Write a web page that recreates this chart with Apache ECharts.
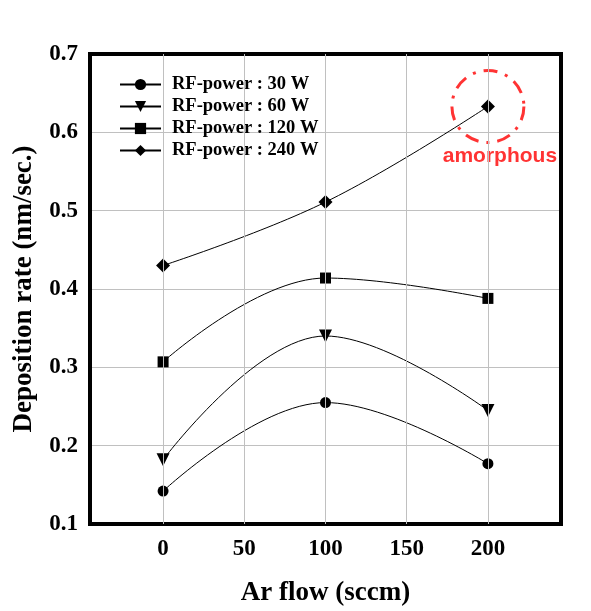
<!DOCTYPE html>
<html>
<head>
<meta charset="utf-8">
<script src="https://cdn.jsdelivr.net/npm/echarts@6/dist/echarts.min.js"></script>
<style>html,body{margin:0;padding:0;background:#fff}#c{width:591px;height:611px}</style>
</head>
<body>
<div id="c"></div>
<script>
const arFlow = [0, 100, 200];
const rf30 = [0.142, 0.255, 0.177];
const rf60 = [0.182, 0.340, 0.245];
const rf120 = [0.307, 0.414, 0.388];
const rf240 = [0.430, 0.511, 0.633];
const seriesNames = ['RF-power : 30 W', 'RF-power : 60 W', 'RF-power : 120 W', 'RF-power : 240 W'];
const xTicks = [0, 50, 100, 150, 200];
const annotationPoint = [200, 0.633];
const annotationText = 'amorphous';

const serif = '"Liberation Serif", "Times New Roman", serif';
const chart = echarts.init(document.getElementById('c'));
function pairs(vals) { return arFlow.map((x, i) => [x, vals[i]]); }
function lineSeries(name, vals, symbol, size, rotate) {
  return {
    name: name, type: 'line', data: pairs(vals), smooth: 0.4,
    symbol: symbol, symbolSize: size, symbolRotate: rotate || 0,
    lineStyle: { color: '#000', width: 1 },
    itemStyle: { color: '#000' }, z: 3
  };
}
chart.setOption({
  animation: false,
  grid: { left: 90, right: 30, top: 54, bottom: 87, show: true, borderColor: '#000', borderWidth: 4,
    backgroundColor: 'transparent', z: 5, containLabel: false, outerBoundsMode: 'none' },
  legend: {
    data: seriesNames, orient: 'vertical', left: 119, top: 75, padding: 0,
    itemWidth: 41, itemHeight: 14, itemGap: 3,
    textStyle: { fontFamily: serif, fontWeight: 'bold', fontSize: 18.5, color: '#000', padding: [0, 0, 0, 6] }
  },
  xAxis: {
    type: 'value', min: -45, max: 245, interval: 5,
    name: 'Ar flow (sccm)', nameLocation: 'middle', nameGap: 56,
    nameTextStyle: { fontFamily: serif, fontWeight: 'bold', fontSize: 27, color: '#000' },
    axisLine: { show: false }, axisTick: { show: false }, splitLine: { show: false },
    axisLabel: { fontFamily: serif, fontWeight: 'bold', fontSize: 23, color: '#000', margin: 14,
      formatter: v => xTicks.indexOf(Math.round(v)) >= 0 ? String(Math.round(v)) : '' }
  },
  yAxis: {
    type: 'value', min: 0.1, max: 0.7, interval: 0.1,
    name: 'Deposition rate (nm/sec.)', nameLocation: 'middle', nameGap: 52,
    nameTextStyle: { fontFamily: serif, fontWeight: 'bold', fontSize: 27, color: '#000' },
    axisLine: { show: false }, axisTick: { show: false },
    splitLine: { show: true, lineStyle: { color: '#c0c0c0', width: 1 } },
    axisLabel: { fontFamily: serif, fontWeight: 'bold', fontSize: 23, color: '#000', margin: 12,
      formatter: v => v.toFixed(1) }
  },
  series: [
    { name: 'grid-x', type: 'line', data: [], z: 1, silent: true,
      markLine: { silent: true, symbol: 'none', label: { show: false },
        lineStyle: { color: '#c0c0c0', width: 1, type: 'solid' },
        data: xTicks.map(v => ({ xAxis: v })) } },
    lineSeries(seriesNames[0], rf30, 'circle', 11),
    lineSeries(seriesNames[1], rf60, 'triangle', 13, 180),
    lineSeries(seriesNames[2], rf120, 'rect', 11),
    lineSeries(seriesNames[3], rf240, 'diamond', 14),
    { name: 'annotation', type: 'scatter', data: [annotationPoint], z: 4, silent: true,
      symbol: 'circle', symbolSize: 72,
      itemStyle: { color: 'transparent', borderColor: '#ff0000', borderWidth: 3, borderType: [14, 8, 3, 8] },
      label: { show: true, position: 'bottom', distance: 2, offset: [12, 0], formatter: annotationText,
        fontFamily: '"Liberation Sans", Arial, sans-serif', fontWeight: 'bold', fontSize: 21, color: '#ff0000' } }
  ]
});
</script>
</body>
</html>
